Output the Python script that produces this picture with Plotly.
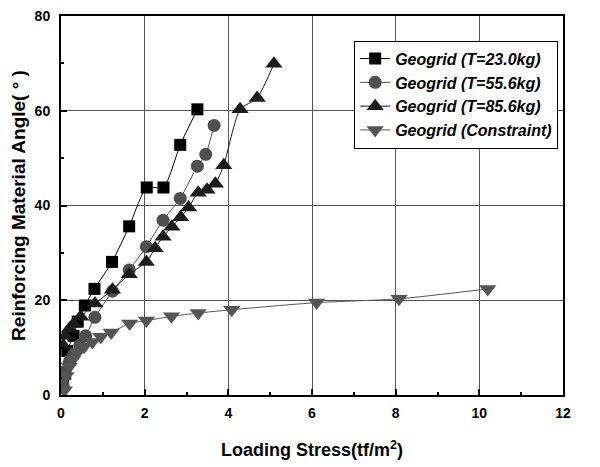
import plotly.graph_objects as go

# Data
sq_x = [0.05, 0.1, 0.15, 0.3, 0.4, 0.57, 0.8, 1.22, 1.63, 2.05, 2.45, 2.85, 3.26]
sq_y = [2.5, 4.5, 9.3, 12.5, 15.5, 18.9, 22.4, 28.1, 35.6, 43.8, 43.8, 52.8, 60.3]

ci_x = [0.05, 0.1, 0.2, 0.3, 0.45, 0.59, 0.81, 1.23, 1.63, 2.04, 2.44, 2.85, 3.26, 3.46, 3.66]
ci_y = [2.0, 5.0, 7.0, 8.5, 10.5, 12.5, 16.4, 21.9, 26.4, 31.3, 36.9, 41.5, 48.3, 50.8, 56.9]

tr_x = [0.05, 0.1, 0.2, 0.3, 0.47, 0.81, 1.23, 1.63, 2.04, 2.25, 2.44, 2.65, 2.86, 3.05,
        3.28, 3.49, 3.69, 3.89, 4.28, 4.69, 5.09]
tr_y = [10.5, 12.5, 14.0, 15.0, 16.5, 19.3, 22.2, 25.5, 28.1, 31.0, 33.4, 35.5, 37.5, 39.6,
        42.7, 43.3, 44.6, 48.5, 60.3, 62.7, 69.9]

cn_x = [0.08, 0.12, 0.2, 0.28, 0.4, 0.55, 0.75, 0.95, 1.2, 1.64, 2.04, 2.64, 3.28, 4.08,
        6.11, 8.08, 10.2]
cn_y = [1.0, 4.0, 6.0, 7.5, 9.0, 10.2, 11.2, 12.3, 13.2, 15.1, 15.7, 16.6, 17.3, 18.0,
        19.5, 20.3, 22.4]

names = ["Geogrid (T=23.0kg)", "Geogrid (T=55.6kg)", "Geogrid (T=85.6kg)", "Geogrid (Constraint)"]
x_ticks = [0, 2, 4, 6, 8, 10, 12]
y_ticks = [0, 20, 40, 60, 80]

series = [
    (sq_x, sq_y, "square", "#000000", "#000000", 12),
    (ci_x, ci_y, "circle", "#4f4f4f", "#4f4f4f", 13),
    (tr_x, tr_y, "triangle-up", "#1c1c1c", "#1c1c1c", 15),
    (cn_x, cn_y, "triangle-down", "#555555", "#555555", 15),
]

fig = go.Figure()
for (xs, ys, sym, mc, lc, sz), nm in zip(series, names):
    fig.add_trace(go.Scatter(
        x=xs, y=ys, name=nm, mode="lines+markers",
        line=dict(color=lc, width=1, shape="spline", smoothing=0.6),
        marker=dict(symbol=sym, size=sz, color=mc, line=dict(width=0)),
    ))

font_family = "Liberation Sans, Arial, sans-serif"
fig.update_layout(
    width=600, height=467,
    margin=dict(l=53, r=45, t=8, b=80),
    paper_bgcolor="white", plot_bgcolor="white",
    font=dict(family=font_family, color="black"),
    showlegend=True,
    legend=dict(
        x=0.584, y=0.935, xanchor="left", yanchor="top",
        bgcolor="white", bordercolor="black", borderwidth=1,
        font=dict(size=16, family=font_family, color="black", style="italic", weight="bold"),
        tracegroupgap=0, itemsizing="trace",
    ),
)
fig.update_xaxes(
    range=[0, 12], tickvals=x_ticks, ticktext=[str(v) for v in x_ticks],
    automargin=False, ticklabeloverflow="allow",
    showgrid=True, gridcolor="#555555", gridwidth=1,
    showline=True, linecolor="black", linewidth=2, mirror=True,
    ticks="inside", ticklen=6, tickwidth=1.5, tickcolor="black",
    minor=dict(dtick=1, ticks="inside", ticklen=3, tickcolor="black", showgrid=False),
    tickfont=dict(size=14, weight="bold"), ticklabelstandoff=4,
    title=dict(text="Loading Stress(tf/m<sup>2</sup>)",
               font=dict(size=18, weight="bold"), standoff=24),
    zeroline=False,
)
fig.update_yaxes(
    range=[0, 80], tickvals=y_ticks, ticktext=[str(v) for v in y_ticks],
    automargin=False, ticklabeloverflow="allow",
    showgrid=True, gridcolor="#555555", gridwidth=1,
    showline=True, linecolor="black", linewidth=2, mirror=True,
    ticks="inside", ticklen=6, tickwidth=1.5, tickcolor="black",
    minor=dict(dtick=10, ticks="inside", ticklen=3, tickcolor="black", showgrid=False),
    tickfont=dict(size=14, weight="bold"), ticklabelstandoff=6,
    title=dict(text="Reinforcing Material Angle( ° )",
               font=dict(size=19, weight="bold"), standoff=8),
    zeroline=False,
)
fig.write_html("out.html")
